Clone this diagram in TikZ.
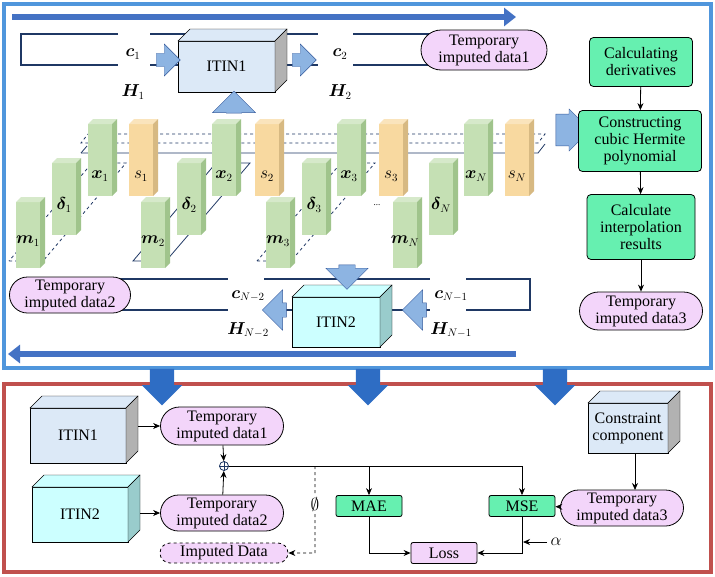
\documentclass[tikz,border=0pt]{standalone}
\usepackage{amsmath,bm}
\usepackage{fontspec}
\setmainfont{Liberation Serif}
\usetikzlibrary{arrows.meta,shapes.arrows,shapes.misc}
\definecolor{fb}{RGB}{80,150,220}
\definecolor{fr}{RGB}{192,80,77}
\definecolor{ab}{RGB}{68,114,196}
\definecolor{db}{RGB}{46,109,196}
\definecolor{lb}{RGB}{141,180,226}
\definecolor{cb}{RGB}{220,233,247}
\definecolor{cc}{RGB}{204,255,255}
\definecolor{gf}{RGB}{197,224,180}
\definecolor{gs}{RGB}{160,196,140}
\definecolor{of}{RGB}{248,217,160}
\definecolor{os}{RGB}{215,185,130}
\definecolor{mint}{RGB}{102,240,176}
\definecolor{pk}{RGB}{243,213,250}
\definecolor{ln}{RGB}{31,56,100}
\newcommand{\mycube}[8]{% x y w h d front side name
 \fill[#6] (#1,#2) rectangle ++(#3,#4);
 \fill[#6!70!white] (#1,#2) -- ++(#5,-#5) -- ++(#3,0) -- ++(-#5,#5) -- cycle;
 \fill[#7] (#1+#3,#2) -- ++(#5,-#5) -- ++(0,#4) -- ++(-#5,#5) -- cycle;
 \node[inner sep=0pt] (#8) at (#1+#3/2,#2+#4/2) {};
}
\newcommand{\bigcube}[8]{%
 \filldraw[black,fill=#6] (#1,#2) rectangle ++(#3,#4);
 \filldraw[black,fill=#6] (#1,#2) -- ++(#5,-#5) -- ++(#3,0) -- ++(-#5,#5) -- cycle;
 \filldraw[black,fill=#7] (#1+#3,#2) -- ++(#5,-#5) -- ++(0,#4) -- ++(-#5,#5) -- cycle;
 \node[align=center] (#8) at (#1+#3/2,#2+#4/2) {};
}
\tikzset{
 tf/.style={font=\rmfamily\fontsize{16}{17}\selectfont},
 pill/.style={rounded rectangle, draw, fill=pk, align=center, tf, inner sep=1pt, line width=0.8pt},
 gbox/.style={draw, fill=mint, rounded corners=4pt, align=center, tf, line width=0.8pt, inner sep=1pt},
 ml/.style={font=\fontsize{16}{17}\selectfont},
 bl/.style={single arrow, draw=ab!80!black, fill=lb, inner sep=0pt},
 fl/.style={line width=1.6pt, draw=ln},
 ar/.style={-{Stealth[length=7pt,width=6pt]}, line width=0.8pt},
}
\begin{document}
\begin{tikzpicture}[x=1pt,y=-1pt]
\useasboundingbox (0,0) rectangle (715,576);
\fill[white] (0,0) rectangle (715,576);
% frames
\draw[fb, line width=4pt] (4,4) rectangle (711,368);
\draw[fr, line width=4pt] (4,384) rectangle (711,572);
% top and bottom big arrows
\coordinate (ta1) at (12,17); \coordinate (ta2) at (516,17);
\draw[ab, line width=6pt, -{Triangle[length=12pt,width=18pt]}] (ta1) -- (ta2);
\coordinate (ba1) at (516,354); \coordinate (ba2) at (8,354);
\draw[ab, line width=6pt, -{Triangle[length=12pt,width=18pt]}] (ba1) -- (ba2);
% upper ITIN1 rail
\draw[fl] (118,34) -- (21,34) -- (21,65) -- (118,65);
\draw[fl] (150,34) -- (318,34); \draw[fl] (150,65) -- (318,65);
\draw[fl] (353,34) -- (440,34); \draw[fl] (353,65) -- (440,65);
\node[pill, minimum width=128pt, minimum height=40pt] (td1) at (484,50) {Temporary\\imputed data1};
\bigcube{178}{41}{97}{51}{12}{cb}{gray!60}{it1}
\node[tf] at (it1) {ITIN1};
\node[bl, minimum height=24pt, minimum width=32pt, inner sep=6pt, single arrow head extend=9pt] (la) at (165,60) {};
\node[bl, minimum height=24pt, minimum width=32pt, inner sep=6pt, single arrow head extend=9pt] (ra) at (301,60) {};
\node[bl, minimum height=22pt, minimum width=43pt, inner sep=6pt, single arrow head extend=11pt, shape border rotate=90] (ua) at (234,106) {};
\node[ml] (c1) at (133,54) {$\bm{c}_1$};
\node[ml] (h1) at (133,92) {$\bm{H}_1$};
\node[ml] (c2) at (340,54) {$\bm{c}_2$};
\node[ml] (h2) at (340,92) {$\bm{H}_2$};
% planes
\draw[ln, dashed, line width=0.8pt] (88,134) -- (545,134) -- (538,143) -- (81,143) -- cycle;
\draw[ln, line width=0.8pt] (81,153) -- (538,153) -- (545,144);
\draw[ln, line width=0.8pt] (81,153) -- (87,146);
\draw[ln, dashed, line width=0.8pt] (9,261) -- (43,261) -- (126,163) -- (92,163) -- cycle;
\draw[ln, line width=0.8pt] (133,261) -- (166,261) -- (250,163) -- (216,163) -- cycle;
\draw[ln, dashed, line width=0.8pt] (257,261) -- (291,261) -- (375,163) -- (341,163) -- cycle;
% blocks
\foreach \px/\nm in {88/x1,212/x2,337/x3,464/xN}{\mycube{\px}{124}{24}{72}{5}{gf}{gs}{\nm}}
\foreach \px/\nm in {129/s1,255/s2,379/s3,505/sN}{\mycube{\px}{124}{24}{72}{5}{of}{os}{\nm}}
\foreach \px/\nm in {52/d1,177/d2,302/d3,429/dN}{\mycube{\px}{163}{24}{72}{5}{gf}{gs}{\nm}}
\foreach \px/\nm in {16/m1,141/m2,266/m3,393/mN}{\mycube{\px}{202}{24}{66}{5}{gf}{gs}{\nm}}
\node[ml] at ([yshift=-16pt]x1) {$\bm{x}_1$};
\node[ml] at ([yshift=-16pt]x2) {$\bm{x}_2$};
\node[ml] at ([yshift=-16pt]x3) {$\bm{x}_3$};
\node[ml] at ([yshift=-16pt]xN) {$\bm{x}_N$};
\node[ml] at ([yshift=-16pt]s1) {$s_1$};
\node[ml] at ([yshift=-16pt]s2) {$s_2$};
\node[ml] at ([yshift=-16pt]s3) {$s_3$};
\node[ml] at ([yshift=-16pt]sN) {$s_N$};
\node[ml] at ([yshift=-6pt]d1) {$\bm{\delta}_1$};
\node[ml] at ([yshift=-6pt]d2) {$\bm{\delta}_2$};
\node[ml] at ([yshift=-6pt]d3) {$\bm{\delta}_3$};
\node[ml] at ([yshift=-6pt]dN) {$\bm{\delta}_N$};
\node[ml] at ([yshift=-6pt]m1) {$\bm{m}_1$};
\node[ml] at ([yshift=-6pt]m2) {$\bm{m}_2$};
\node[ml] at ([yshift=-6pt]m3) {$\bm{m}_3$};
\node[ml] at ([yshift=-6pt]mN) {$\bm{m}_N$};
\node[font=\small] (dots) at (377,205) {...};
% right flow
\node[bl, minimum height=20pt, minimum width=42pt, inner sep=9pt, single arrow head extend=3pt] (rarr) at (565,130) {};
\node[gbox, minimum width=103pt, minimum height=49pt] (f1) at (641,62) {Calculating\\derivatives};
\node[gbox, minimum width=123pt, minimum height=61pt] (f2) at (640,141) {Constructing\\cubic Hermite\\polynomial};
\node[gbox, minimum width=108pt, minimum height=65pt] (f3) at (641,227) {Calculate\\interpolation\\results};
\node[pill, minimum width=125pt, minimum height=38pt] (td3) at (641,311) {Temporary\\imputed data3};
\draw[ar] (f1) -- (f2); \draw[ar] (f2) -- (f3); \draw[ar] (f3) -- (td3);
% ITIN2 rail
\draw[fl] (100,279) -- (228,279); \draw[fl] (100,310) -- (228,310);
\draw[fl] (264,279) -- (430,279); \draw[fl] (264,310) -- (430,310);
\draw[fl] (466,279) -- (530,279) -- (530,310) -- (466,310);
\node[pill, minimum width=123pt, minimum height=36pt] (td2) at (70,295) {Temporary\\imputed data2};
\bigcube{292}{297}{88}{50}{12}{cc}{teal!40}{it2}
\node[tf] at (it2) {ITIN2};
\node[bl, minimum height=24pt, minimum width=40pt, inner sep=7pt, single arrow head extend=13pt, shape border rotate=180] (la2) at (278,310) {};
\node[bl, minimum height=24pt, minimum width=40pt, inner sep=7pt, single arrow head extend=13pt, shape border rotate=180] (ra2) at (418,310) {};
\node[bl, minimum height=16pt, minimum width=42pt, inner sep=8pt, single arrow head extend=13pt, shape border rotate=270] (da) at (347,273) {};
\node[ml] (cn2) at (248,296) {$\bm{c}_{N-2}$};
\node[ml] (hn2) at (248,330) {$\bm{H}_{N-2}$};
\node[ml] (cn1) at (451,296) {$\bm{c}_{N-1}$};
\node[ml] (hn1) at (451,330) {$\bm{H}_{N-1}$};
% down arrows between frames
\foreach \px/\nm in {162/d1a,368/d2a,555/d3a}{
 \node[single arrow, fill=db, shape border rotate=270, minimum height=36pt, minimum width=40pt, inner sep=12pt, single arrow head extend=8pt] (\nm) at (\px,381) {};}
% bottom panel
\bigcube{30}{408}{96}{55}{12}{cb}{gray!60}{b1}
\node[tf] at (b1) {ITIN1};
\bigcube{32}{487}{96}{55}{12}{cc}{teal!40}{b2}
\node[tf] at (b2) {ITIN2};
\bigcube{588}{403}{80}{50}{12}{cb}{gray!60}{bc}
\node[tf, align=center] at (bc) {Constraint\\component};
\node[pill, minimum width=125pt, minimum height=38pt] (p1) at (222,426) {Temporary\\imputed data1};
\node[pill, minimum width=125pt, minimum height=36pt] (p2) at (222,513) {Temporary\\imputed data2};
\node[pill, minimum width=125pt, minimum height=36pt] (p3) at (622,508) {Temporary\\imputed data3};
\node[pill, dashed, minimum width=130pt, minimum height=20pt] (imp) at (224,553) {Imputed Data};
\node[gbox, rounded corners=2pt, minimum width=66pt, minimum height=21pt] (mae) at (369,506) {MAE};
\node[gbox, rounded corners=2pt, minimum width=66pt, minimum height=21pt] (mse) at (522,506) {MSE};
\node[draw, fill=pk, rounded corners=2pt, tf, minimum width=66pt, minimum height=21pt, line width=0.8pt, inner sep=1pt] (loss) at (444,553) {Loss};
\node[circle, draw=ln, inner sep=0pt, minimum size=9pt, line width=0.8pt] (op) at (224,466) {};
\draw[ln, line width=0.8pt] (op.north) -- (op.south) (op.west) -- (op.east);
\coordinate (b1r) at (138,426);
\coordinate (b2r) at (140,513);
\draw[ar] (b1r) -- (p1);
\draw[ar] (b2r) -- (p2);
\draw[ar] (p1) -- (op);
\draw[ar] (p2) -- (op);
\coordinate (jr) at (522,466);
\coordinate (jm) at (369,466);
\coordinate (jd) at (315,466);
\draw[line width=0.8pt] (op.east) -- (jr);
\draw[ar] (jm) -- (mae);
\draw[ar] (jr) -- (mse);
\draw[ar, dashed] (jd) -- (315,553) -- (imp);
\node[fill=white, inner sep=1pt, ml] (emp) at (315,504) {$\emptyset$};
\draw[ar] (mae) |- (loss);
\draw[ar] (mse) |- (loss);
\node[ml, anchor=west] (alpha) at (547,542) {$\alpha$};
\coordinate (alt) at (523,542);
\draw[ar] (alpha.west) -- (alt);
\coordinate (bcb) at (635,453);
\coordinate (p3t) at (635,490);
\draw[ar] (bcb) -- (p3t);
\draw[ar] (p3) -- (mse);
\end{tikzpicture}
\end{document}
